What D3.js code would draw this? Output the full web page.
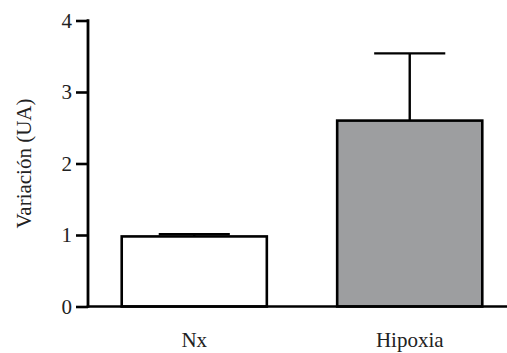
<!DOCTYPE html>
<html>
<head>
<meta charset="utf-8">
<script src="https://cdn.jsdelivr.net/npm/d3@7"></script>
<style>
  html, body { margin: 0; padding: 0; background: #fff; }
  svg { display: block; }
  .serif { font-family: 'Liberation Serif', 'DejaVu Serif', serif; }
</style>
</head>
<body>
<svg id="chart" width="507" height="353"></svg>
<script>
// Group names, mean values and error (SEM) per group
const categories = ["Nx", "Hipoxia"];
const means = [0.98, 2.60];
const errors = [0.03, 0.94];
const fills = ["#ffffff", "#9d9ea0"];
const yTicks = [0, 1, 2, 3, 4];
const yLabel = "Variación (UA)";

const fontSize = 21;
const svg = d3.select("#chart");

const axisX = 88;
const y = d3.scaleLinear().domain([0, 4]).range([306.5, 20.5]);
const x = d3.scaleBand()
  .domain(categories)
  .range([axisX, 516])
  .paddingInner(0.3265)
  .paddingOuter(0.1565);

const data = categories.map((c, i) => ({ c, m: means[i], e: errors[i], f: fills[i] }));

// Bars
svg.append("g").selectAll("rect")
  .data(data)
  .join("rect")
  .attr("x", d => x(d.c))
  .attr("y", d => y(d.m))
  .attr("width", x.bandwidth())
  .attr("height", d => y(0) - y(d.m))
  .attr("fill", d => d.f)
  .attr("stroke", "#000")
  .attr("stroke-width", 2.6);

// Error bars (upper only)
const capW = x.bandwidth() * 0.49;
const eb = svg.append("g").attr("stroke", "#000").attr("stroke-width", 2.4);
eb.selectAll("line.v")
  .data(data)
  .join("line")
  .attr("class", "v")
  .attr("x1", d => x(d.c) + x.bandwidth() / 2)
  .attr("x2", d => x(d.c) + x.bandwidth() / 2)
  .attr("y1", d => y(d.m))
  .attr("y2", d => y(d.m + d.e));
eb.selectAll("line.cap")
  .data(data)
  .join("line")
  .attr("class", "cap")
  .attr("x1", d => x(d.c) + x.bandwidth() / 2 - capW / 2)
  .attr("x2", d => x(d.c) + x.bandwidth() / 2 + capW / 2)
  .attr("y1", d => y(d.m + d.e))
  .attr("y2", d => y(d.m + d.e));

// X axis baseline
svg.append("line")
  .attr("x1", axisX - 1.3).attr("x2", 507)
  .attr("y1", y(0)).attr("y2", y(0))
  .attr("stroke", "#000").attr("stroke-width", 2.6);

// Y axis
const yAxis = d3.axisLeft(y).tickValues(yTicks).tickFormat(d3.format("d")).tickSize(12).tickPadding(4);
const gy = svg.append("g").attr("transform", `translate(${axisX},0)`).call(yAxis)
  .attr("font-family", null).attr("font-size", fontSize);
gy.select(".domain").attr("stroke", "#000").attr("stroke-width", 2.8).attr("d", `M0,${y(4) - 1.3}V${y(0) + 1.3}`);
gy.selectAll(".tick line").attr("stroke", "#000").attr("stroke-width", 2.6);
gy.selectAll(".tick text").attr("class", "serif").attr("fill", "#222");

// Category labels
svg.append("g").attr("font-size", fontSize).attr("fill", "#222")
  .selectAll("text")
  .data(categories)
  .join("text")
  .attr("class", "serif")
  .attr("x", d => x(d) + x.bandwidth() / 2)
  .attr("y", 347)
  .attr("text-anchor", "middle")
  .text(d => d);

// Y axis title
svg.append("text")
  .attr("class", "serif")
  .attr("transform", `translate(31,${y(2)}) rotate(-90)`)
  .attr("text-anchor", "middle")
  .attr("font-size", fontSize)
  .attr("fill", "#222")
  .text(yLabel);
</script>
</body>
</html>
